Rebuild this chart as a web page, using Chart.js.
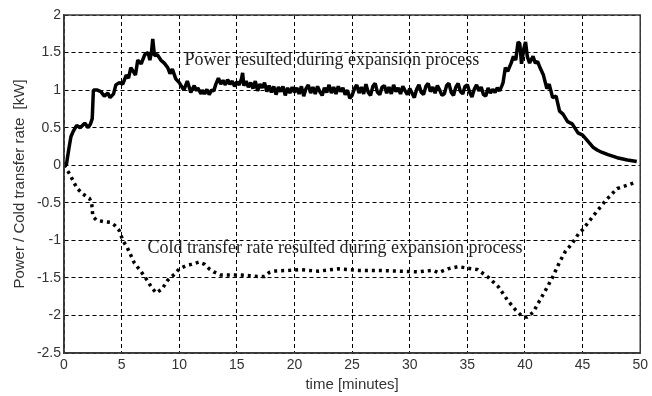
<!DOCTYPE html>
<html>
<head>
<meta charset="utf-8">
<script src="https://cdn.jsdelivr.net/npm/chart.js@4/dist/chart.umd.min.js"></script>
<style>
  html, body { margin: 0; padding: 0; background: #fff; }
  #wrap { width: 652px; height: 396px; }
</style>
</head>
<body>
<div id="wrap"><canvas id="c" width="652" height="396"></canvas></div>
<script>
// Elapsed time [minutes] and generated power [kW]
const powerTime = [0,0.2,0.4,0.6,0.8,1.1,1.4,1.8,2.1,2.3,2.45,2.55,2.9,3.2,3.5,3.8,4.0,4.3,4.5,4.8,5.1,5.4,5.6,5.8,6.0,6.2,6.4,6.7,7.0,7.3,7.45,7.6,7.7,7.85,8.1,8.4,8.7,9.0,9.2,9.4,9.7,10.0,10.2,10.4,10.7,10.9,11.0,11.3,11.5,11.6,11.9,
  12.0,12.2,12.4,12.6,12.8,13.0,13.2,13.4,13.6,13.8,14.0,14.2,14.4,14.6,14.8,15.0,15.2,15.4,15.5,15.6,15.8,16.0,16.2,16.4,16.6,16.8,17.0,17.2,17.4,17.6,17.8,18.0,18.2,18.4,18.6,18.8,19.0,19.2,19.4,19.6,19.8,20.0,20.2,20.4,20.6,20.8,21.0,21.2,21.4,21.6,21.8,22.0,22.2,22.4,22.6,22.8,23.0,23.2,23.4,23.6,23.8,24.0,24.2,24.4,24.6,24.8,25.0,25.2,25.4,25.6,25.8,26.0,26.2,26.4,26.6,26.8,27.0,27.2,27.4,27.6,27.8,28.0,28.2,28.4,28.6,28.8,29.0,29.2,29.4,29.6,29.8,30.0,30.2,30.4,30.6,30.8,31.0,31.2,31.4,31.6,31.8,32.0,32.2,32.4,32.6,32.8,33.0,33.2,33.4,33.6,33.8,34.0,34.2,34.4,34.6,34.8,35.0,35.2,35.4,35.6,35.8,36.0,36.2,36.4,36.6,36.8,37.0,37.2,37.4,37.6,37.8,38.0,
  38.1,38.3,38.5,38.8,39.0,39.2,39.4,39.55,39.7,39.9,40.05,40.2,40.4,40.7,40.9,41.1,41.3,41.6,41.9,42.1,42.4,42.7,43.0,43.3,43.7,44.1,44.6,45.0,45.4,45.9,46.3,46.7,47.2,48.0,48.9,49.7];
const powerKW = [0,0.0,0.2,0.38,0.45,0.53,0.5,0.56,0.5,0.55,0.62,1.0,1.0,0.98,0.92,0.96,0.9,0.95,1.07,1.1,1.08,1.2,1.16,1.3,1.25,1.2,1.4,1.35,1.47,1.5,1.4,1.52,1.68,1.46,1.47,1.4,1.36,1.3,1.22,1.28,1.15,1.1,1.05,1.0,1.12,1.02,0.97,1.06,0.99,1.03,0.95,
  1.00,0.95,1.01,0.94,1.00,0.99,1.09,1.16,1.08,1.13,1.07,1.14,1.08,1.12,1.05,1.11,1.07,1.15,1.23,1.06,1.12,1.04,1.10,1.02,1.12,0.99,1.08,1.03,1.10,0.98,1.06,0.97,1.05,0.94,1.04,0.98,1.05,0.93,1.03,0.96,1.04,0.97,1.03,0.95,1.05,0.92,1.02,1.07,0.96,1.04,0.95,1.05,0.98,0.93,1.03,0.97,1.07,0.96,1.04,0.95,1.05,0.98,1.03,0.94,1.00,0.89,0.93,1.02,1.07,0.96,1.04,0.95,1.08,0.97,0.93,1.05,1.09,0.97,0.94,1.04,1.06,0.96,1.04,0.95,1.07,0.98,1.03,0.95,1.05,0.99,0.94,1.02,0.96,0.90,1.01,1.07,0.97,0.94,1.05,1.09,0.98,1.04,0.96,1.06,1.00,0.93,0.95,1.06,1.09,0.97,0.93,1.04,1.09,0.98,0.95,1.05,1.07,0.97,0.91,1.01,1.07,0.99,1.04,0.94,0.92,1.03,0.96,1.01,0.97,1.03,0.99,1.06,
  1.1,1.3,1.25,1.36,1.45,1.4,1.64,1.62,1.35,1.55,1.64,1.45,1.36,1.45,1.36,1.38,1.3,1.2,1.02,1.08,0.9,0.92,0.72,0.68,0.58,0.55,0.43,0.4,0.33,0.24,0.2,0.17,0.14,0.1,0.07,0.05];

// Elapsed time [minutes] and cold transfer rate [kW]
const coldTime = [0,0.5,1.1,1.6,2.2,2.4,2.5,2.8,3.4,4.0,4.4,4.8,5.1,5.5,6.1,6.8,7.3,7.6,8.0,8.5,9.0,9.6,10.0,10.7,11.1,11.7,12.2,12.6,13.0,13.6,14.3,15.2,16.1,16.8,17.4,17.8,18.2,19.5,20.4,22.1,23.8,25.6,27.3,29.1,30.7,32.0,32.5,33.3,34.2,35.0,35.9,36.8,37.7,38.5,39.2,39.8,40.2,40.7,41.1,41.8,42.4,43.0,43.5,44.1,44.7,45.0,46.0,47.0,48.0,49.0,49.7];
const coldKW = [0,-0.12,-0.3,-0.38,-0.44,-0.5,-0.68,-0.73,-0.75,-0.76,-0.8,-0.87,-1.0,-1.1,-1.3,-1.44,-1.55,-1.63,-1.7,-1.65,-1.53,-1.45,-1.38,-1.33,-1.32,-1.29,-1.32,-1.38,-1.42,-1.46,-1.46,-1.46,-1.47,-1.48,-1.48,-1.43,-1.41,-1.4,-1.39,-1.41,-1.38,-1.4,-1.4,-1.41,-1.42,-1.4,-1.43,-1.38,-1.35,-1.37,-1.39,-1.49,-1.62,-1.8,-1.93,-2.02,-2.02,-1.96,-1.85,-1.66,-1.49,-1.29,-1.15,-1.04,-0.9,-0.86,-0.66,-0.47,-0.31,-0.26,-0.22];

// Axis ticks
const xTicks = [0,5,10,15,20,25,30,35,40,45,50];
const yTicks = [-2.5,-2,-1.5,-1,-0.5,0,0.5,1,1.5,2];

// Curve captions, anchored in data units
const captions = [
  { text: 'Power resulted during expansion process', x: 10.45, y: 1.33 },
  { text: 'Cold transfer rate resulted during expansion process', x: 7.25, y: -1.17 }
];

const toPoints = (xs, ys) => xs.map((x, i) => ({ x, y: ys[i] }));

// Solid box around the plotting area
const framePlugin = {
  id: 'frame',
  afterDraw(chart) {
    const { ctx, chartArea: a } = chart;
    ctx.save();
    ctx.setLineDash([]);
    ctx.strokeStyle = '#3a3a3a';
    ctx.lineWidth = 1.5;
    ctx.strokeRect(a.left, a.top, a.right - a.left, a.bottom - a.top);
    ctx.restore();
  }
};

const captionPlugin = {
  id: 'captions',
  afterDatasetsDraw(chart) {
    const { ctx, scales } = chart;
    ctx.save();
    ctx.font = '18px "Liberation Serif", "Times New Roman", serif';
    ctx.fillStyle = '#222';
    ctx.textAlign = 'left';
    ctx.textBaseline = 'alphabetic';
    captions.forEach(c => {
      ctx.fillText(c.text, scales.x.getPixelForValue(c.x), scales.y.getPixelForValue(c.y));
    });
    ctx.restore();
  }
};

const tickFont = { family: '"Liberation Sans", Arial, sans-serif', size: 14 };
const titleFont = { family: '"Liberation Sans", Arial, sans-serif', size: 15 };
const gridDash = [4, 3];

new Chart(document.getElementById('c'), {
  type: 'line',
  data: {
    datasets: [
      {
        label: 'Power',
        data: toPoints(powerTime, powerKW),
        borderColor: '#000',
        borderWidth: 3.5,
        pointRadius: 0,
        tension: 0,
        borderJoinStyle: 'bevel'
      },
      {
        label: 'Cold transfer rate',
        data: toPoints(coldTime, coldKW),
        borderColor: '#000',
        borderWidth: 3.5,
        borderDash: [3, 4],
        borderCapStyle: 'butt',
        pointRadius: 0,
        tension: 0
      }
    ]
  },
  options: {
    responsive: false,
    animation: false,
    layout: { padding: { top: 15, right: 9, left: 0, bottom: 0 } },
    plugins: { legend: { display: false }, tooltip: { enabled: false } },
    scales: {
      x: {
        type: 'linear',
        min: 0, max: 50,
        afterBuildTicks: s => { s.ticks = xTicks.map(v => ({ value: v })); },
        afterFit: s => { s.height = 43; },
        grid: { color: '#000', lineWidth: 1, drawTicks: false },
        border: { display: true, color: '#3a3a3a', width: 1.5, dash: gridDash },
        ticks: { font: tickFont, color: '#333', padding: 4, maxRotation: 0, callback: v => String(v) },
        title: { display: true, text: 'time [minutes]', font: titleFont, color: '#333', padding: { top: 0, bottom: 2 } }
      },
      y: {
        type: 'linear',
        min: -2.5, max: 2,
        afterBuildTicks: s => { s.ticks = yTicks.map(v => ({ value: v })); },
        afterFit: s => { s.width = 64; },
        grid: { color: '#000', lineWidth: 1, drawTicks: false },
        border: { display: true, color: '#3a3a3a', width: 1.5, dash: gridDash },
        ticks: { font: tickFont, color: '#333', padding: 3, callback: v => String(v) },
        title: { display: true, text: 'Power / Cold transfer rate  [kW]', font: titleFont, color: '#333', padding: { top: 11, bottom: 0 } }
      }
    }
  },
  plugins: [framePlugin, captionPlugin]
});
</script>
</body>
</html>
